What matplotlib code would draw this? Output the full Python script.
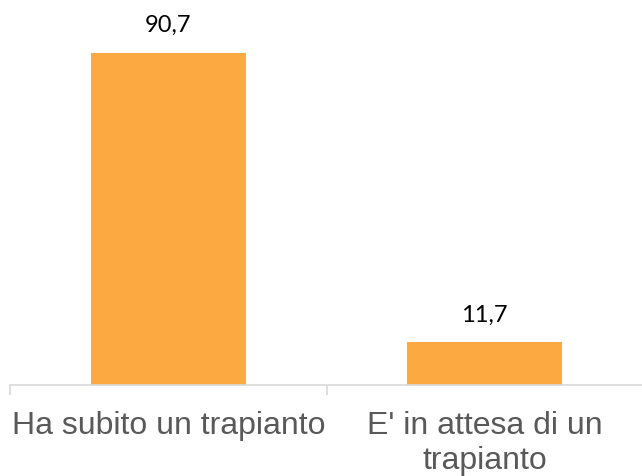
import numpy as np
import matplotlib.pyplot as plt

categories = ["Ha subito un trapianto", "E' in attesa di un\ntrapianto"]
values = [90.7, 11.7]
value_labels = ["90,7", "11,7"]

fig = plt.figure(figsize=(6.42, 4.76), dpi=100)
ax = fig.add_axes([10 / 642, 1 - 385 / 476, 633 / 642, 0.77])

x = np.arange(len(categories))
bars = ax.bar(x, values, width=0.49, color="#FCA941")

ax.set_xlim(-0.5, 1.5)
ax.set_ylim(0, 100)

for b, lab in zip(bars, value_labels):
    ax.annotate(lab, (b.get_x() + b.get_width() / 2, b.get_height()),
                xytext=(0, 12), textcoords="offset points",
                ha="center", va="bottom", fontsize=17, color="black",
                family=["Lato", "DejaVu Sans"])

for s in ["top", "left", "right"]:
    ax.spines[s].set_visible(False)
ax.spines["bottom"].set_color("#D9D9D9")
ax.spines["bottom"].set_linewidth(1.2)

ax.set_yticks([])
ax.set_xticks(x)
ax.set_xticklabels(categories, fontsize=23, color="#595959",
                   family=["Liberation Sans", "DejaVu Sans"], linespacing=1.2)
ax.tick_params(axis="x", which="major", length=0, pad=19)
ax.set_xticks([-0.5, 0.5, 1.5], minor=True)
ax.tick_params(axis="x", which="minor", length=7, color="#D9D9D9", width=1.2)

fig.savefig("out.png", dpi=100)
